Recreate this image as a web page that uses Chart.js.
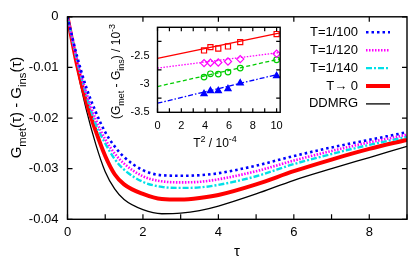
<!DOCTYPE html>
<html>
<head>
<meta charset="utf-8">
<script src="https://cdn.jsdelivr.net/npm/chart.js@4.4.0/dist/chart.umd.min.js"></script>
<style>
html, body { margin: 0; padding: 0; background: #fff; }
#wrap { position: relative; width: 415px; height: 261px; }
#mainChart { position: absolute; left: 0; top: 0; }
#insetChart { position: absolute; left: 100px; top: 10px; }
</style>
</head>
<body>
<div id="wrap">
<canvas id="mainChart" width="415" height="261" style="width:415px;height:261px"></canvas>
<canvas id="insetChart" width="190" height="140" style="width:190px;height:140px"></canvas>
</div>
<script>
// main panel: G_met(tau) - G_ins(tau)
const tau = [0, 0.25, 0.5, 0.75, 1, 1.25, 1.5, 2, 2.5, 3, 3.5, 4, 5, 6, 7, 8, 9];
const gT100 = [0, -0.0077, -0.0140, -0.0188, -0.0228, -0.0256, -0.0277, -0.0303, -0.0313, -0.0314, -0.0313, -0.0309, -0.0294, -0.0275, -0.0258, -0.0243, -0.0228];
const gT120 = [0, -0.0084, -0.0150, -0.0203, -0.0242, -0.0270, -0.0290, -0.0315, -0.0325, -0.0327, -0.0326, -0.0321, -0.0305, -0.0284, -0.0265, -0.0248, -0.0233];
const gT140 = [0, -0.0086, -0.0155, -0.0212, -0.0250, -0.0281, -0.0302, -0.0326, -0.0336, -0.0338, -0.0337, -0.0332, -0.0315, -0.0291, -0.0271, -0.0253, -0.0237];
const gT0 = [0, -0.0094, -0.0168, -0.0226, -0.0275, -0.0311, -0.0331, -0.0350, -0.0360, -0.0361, -0.0358, -0.0352, -0.0331, -0.0305, -0.0282, -0.0261, -0.0243];
const gDDMRG = [0, -0.0100, -0.0184, -0.0252, -0.0306, -0.0340, -0.0361, -0.0381, -0.0389, -0.0388, -0.0383, -0.0374, -0.0350, -0.0323, -0.0300, -0.0278, -0.0256];
const mainLabels = ['T=1/100', 'T=1/120', 'T=1/140', 'T\u2192 0', 'DDMRG'];
const mainXTickLabels = ['0', '2', '4', '6', '8'];
const mainYTickLabels = ['-0.04', '-0.03', '-0.02', '-0.01', '0'];

// inset: extrapolation in T^2
const tSq = [3.906, 4.444, 5.102, 5.917, 6.944, 10];
const ptRed = [-2.659, -2.599, -2.624, -2.588, -2.511, -2.369];
const ptMagenta = [-2.882, -2.876, -2.871, -2.853, -2.811, -2.717];
const ptGreen = [-3.129, -3.071, -3.076, -3.041, -2.970, -2.823];
const ptBlue = [-3.424, -3.371, -3.371, -3.336, -3.235, -3.106];
const fitX = [0, 10.3];
const fitRed = [-2.80, -2.35];
const fitMagenta = [-2.97, -2.694];
const fitGreen = [-3.295, -2.806];
const fitBlue = [-3.59, -3.07];
const insetXTickLabels = ['0', '2', '4', '6', '8', '10'];
const insetYTickLabels = ['-3.5', '-3', '-2.5'];

const FONT = "'Liberation Sans', Arial, sans-serif";

function pts(xs, ys) {
    return xs.map((x, i) => ({ x: x, y: ys[i] }));
}

// draws text with sub/superscripts, centred on (0,0) of the current transform
function drawRich(ctx, parts, size) {
    let total = 0;
    const items = parts.map(p => {
        const s = p.sub || p.sup ? size * 0.75 : size;
        ctx.font = s + 'px ' + FONT;
        const w = ctx.measureText(p.t).width;
        total += w;
        return { t: p.t, s: s, w: w, dy: p.sub ? size * 0.3 : (p.sup ? -size * 0.42 : 0) };
    });
    let x = -total / 2;
    ctx.textBaseline = 'alphabetic';
    ctx.textAlign = 'left';
    items.forEach(it => {
        ctx.font = it.s + 'px ' + FONT;
        ctx.fillText(it.t, x, it.dy);
        x += it.w;
    });
}

function drawFrame(chart, xTicks, yTicks, len) {
    const ctx = chart.ctx;
    const a = chart.chartArea;
    const sx = chart.scales.x, sy = chart.scales.y;
    ctx.save();
    ctx.strokeStyle = '#000';
    ctx.lineWidth = 1.2;
    ctx.beginPath();
    xTicks.forEach(t => {
        const px = sx.getPixelForValue(t.v);
        ctx.moveTo(px, a.bottom); ctx.lineTo(px, a.bottom - len);
        if (t.top) { ctx.moveTo(px, a.top); ctx.lineTo(px, a.top + len); }
    });
    yTicks.forEach(v => {
        const py = sy.getPixelForValue(v);
        ctx.moveTo(a.left, py); ctx.lineTo(a.left + len, py);
        ctx.moveTo(a.right, py); ctx.lineTo(a.right - len, py);
    });
    ctx.stroke();
    ctx.lineWidth = 1.4;
    ctx.strokeRect(a.left, a.top, a.right - a.left, a.bottom - a.top);
    ctx.restore();
}

const mainDecor = {
    id: 'mainDecor',
    afterDraw(chart) {
        const ctx = chart.ctx;
        const xt = [0, 1, 2, 3, 4, 5, 6, 7, 8, 9].map(v => ({ v: v, top: v % 2 === 0 }));
        drawFrame(chart, xt, [-0.04, -0.03, -0.02, -0.01, 0], 5);

        ctx.save();
        ctx.fillStyle = '#000';
        // y title
        ctx.translate(21, 107.5);
        ctx.rotate(-Math.PI / 2);
        drawRich(ctx, [{ t: 'G' }, { t: 'met', sub: true }, { t: '(\u03c4) - G' }, { t: 'ins', sub: true }, { t: '(\u03c4)' }], 15);
        ctx.restore();

        ctx.save();
        ctx.fillStyle = '#000';
        ctx.font = '15px ' + FONT;
        ctx.textAlign = 'center';
        ctx.textBaseline = 'middle';
        ctx.fillText('\u03c4', 237, 252);

        // legend
        ctx.font = '13px ' + FONT;
        ctx.textAlign = 'right';
        chart.data.datasets.forEach((ds, i) => {
            const y = 32.3 + i * 17.9;
            ctx.fillStyle = '#000';
            ctx.fillText(ds.label, 358, y);
            ctx.strokeStyle = ds.borderColor;
            ctx.lineWidth = ds.borderWidth;
            ctx.setLineDash(ds.borderDash || []);
            ctx.beginPath();
            ctx.moveTo(366, y);
            ctx.lineTo(390, y);
            ctx.stroke();
        });
        ctx.restore();
    }
};

const mainSeries = [
    { values: gT100, color: '#0000ff', width: 2.6, dash: [2.5, 3] },
    { values: gT120, color: '#ff00ff', width: 2.6, dash: [1.5, 1.5] },
    { values: gT140, color: '#00e0e8', width: 2.4, dash: [6, 2, 2, 2] },
    { values: gT0, color: '#ff0000', width: 4, dash: [] },
    { values: gDDMRG, color: '#000000', width: 1.3, dash: [] }
];

new Chart(document.getElementById('mainChart'), {
    type: 'line',
    data: {
        datasets: mainSeries.map((s, i) => ({
            label: mainLabels[i],
            data: pts(tau, s.values),
            borderColor: s.color,
            borderWidth: s.width,
            borderDash: s.dash,
            pointRadius: 0,
            fill: false,
            cubicInterpolationMode: 'monotone'
        }))
    },
    options: {
        responsive: false,
        animation: false,
        devicePixelRatio: 1,
        layout: { padding: { left: 0, top: 15.7, right: 8, bottom: 0 } },
        plugins: { legend: { display: false }, tooltip: { enabled: false } },
        scales: {
            x: {
                type: 'linear', min: 0, max: 9,
                afterFit: s => { s.height = 41.7; },
                grid: { display: false, drawTicks: false }, border: { display: false },
                ticks: {
                    stepSize: 1, autoSkip: false, maxRotation: 0, padding: 5, color: '#000',
                    font: { family: FONT, size: 13 },
                    callback: v => (v % 2 === 0 ? mainXTickLabels[v / 2] : '')
                }
            },
            y: {
                type: 'linear', min: -0.04, max: 0,
                afterFit: s => { s.width = 67.5; },
                grid: { display: false, drawTicks: false }, border: { display: false },
                ticks: {
                    stepSize: 0.01, padding: 9, color: '#000',
                    font: { family: FONT, size: 13 },
                    callback: (v, i) => mainYTickLabels[i]
                }
            }
        }
    },
    plugins: [mainDecor]
});

const insetDecor = {
    id: 'insetDecor',
    beforeDraw(chart) {
        const a = chart.chartArea;
        chart.ctx.save();
        chart.ctx.fillStyle = '#fff';
        chart.ctx.fillRect(a.left, a.top, a.right - a.left, a.bottom - a.top);
        chart.ctx.restore();
    },
    afterDraw(chart) {
        const ctx = chart.ctx;
        const xt = [0, 1, 2, 3, 4, 5, 6, 7, 8, 9, 10].map(v => ({ v: v, top: true }));
        drawFrame(chart, xt, [-3.5, -3, -2.5], 4);
        ctx.save();
        ctx.fillStyle = '#000';
        ctx.translate(115, 137);
        drawRich(ctx, [{ t: 'T' }, { t: '2', sup: true }, { t: ' / 10' }, { t: '-4', sup: true }], 12);
        ctx.restore();
        ctx.save();
        ctx.fillStyle = '#000';
        ctx.translate(20, 61.5);
        ctx.rotate(-Math.PI / 2);
        drawRich(ctx, [{ t: '(G' }, { t: 'met', sub: true }, { t: ' - G' }, { t: 'ins', sub: true }, { t: ') / 10' }, { t: '-3', sup: true }], 12);
        ctx.restore();
    }
};

const insetSets = [
    { pts: ptRed, fit: fitRed, color: '#ff0000', dash: [], style: 'rect', fillPt: false },
    { pts: ptMagenta, fit: fitMagenta, color: '#ff00ff', dash: [1.5, 1.5], style: 'rectRot', fillPt: false },
    { pts: ptGreen, fit: fitGreen, color: '#00cc00', dash: [4, 2.5], style: 'circle', fillPt: false },
    { pts: ptBlue, fit: fitBlue, color: '#0000ff', dash: [5, 2, 1.5, 2], style: 'triangle', fillPt: true }
];

const insetData = [];
insetSets.forEach(s => {
    insetData.push({
        data: pts(fitX, s.fit), borderColor: s.color, borderWidth: 1.3, borderDash: s.dash,
        pointRadius: 0, fill: false
    });
    insetData.push({
        data: pts(tSq, s.pts), showLine: false, borderColor: s.color,
        pointStyle: s.style, pointRadius: s.style === 'circle' ? 2.8 : 3.6,
        pointBorderWidth: 1.2, pointBorderColor: s.color,
        pointBackgroundColor: s.fillPt ? s.color : 'rgba(0,0,0,0)'
    });
});

new Chart(document.getElementById('insetChart'), {
    type: 'line',
    data: { datasets: insetData },
    options: {
        responsive: false,
        animation: false,
        devicePixelRatio: 1,
        layout: { padding: { left: 0, top: 17.3, right: 9, bottom: 0 } },
        plugins: { legend: { display: false }, tooltip: { enabled: false } },
        scales: {
            x: {
                type: 'linear', min: 0, max: 10.3,
                afterFit: s => { s.height = 37.7; },
                grid: { display: false, drawTicks: false }, border: { display: false },
                ticks: {
                    stepSize: 1, includeBounds: false, autoSkip: false, maxRotation: 0, padding: 7, color: '#000',
                    font: { family: FONT, size: 11 },
                    callback: v => (v % 2 === 0 ? insetXTickLabels[v / 2] : '')
                }
            },
            y: {
                type: 'linear', min: -3.75, max: -2.25,
                afterFit: s => { s.width = 57.5; },
                grid: { display: false, drawTicks: false }, border: { display: false },
                ticks: {
                    stepSize: 0.5, includeBounds: false, padding: 8, color: '#000',
                    font: { family: FONT, size: 11 },
                    callback: (v, i) => insetYTickLabels[i]
                }
            }
        }
    },
    plugins: [insetDecor]
});
</script>
</body>
</html>
